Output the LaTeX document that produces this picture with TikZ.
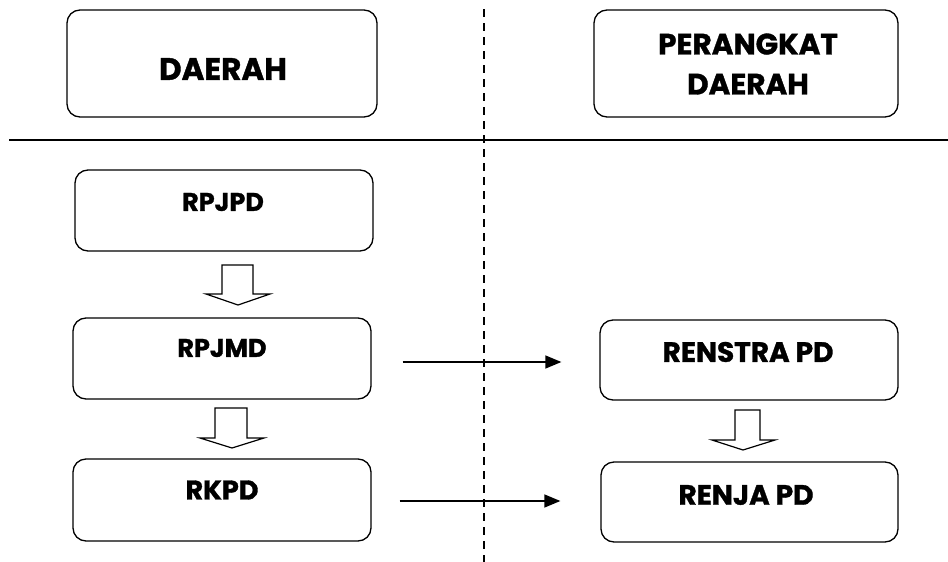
\documentclass[tikz,border=0pt]{standalone}
\usepackage{fontspec}
\setmainfont{Poppins}[BoldFeatures={FakeBold=1.2}]
\usetikzlibrary{arrows.meta}
\tikzset{
  box/.style={draw, line width=1.3pt, rounded corners=13pt, inner sep=0pt},
  lbl/.style={font=\bfseries, inner sep=0pt, align=center},
  hdr/.style={lbl, font=\fontsize{31}{40}\selectfont\bfseries},
  item/.style={lbl, font=\fontsize{25.5}{32}\selectfont\bfseries},
  itemr/.style={lbl, font=\fontsize{28}{30}\selectfont\bfseries},
  conn/.style={line width=1.4pt, -{Triangle[length=16pt,width=13pt]}},
  blockarrow/.style={draw, line width=1.2pt, fill=white, line join=miter},
}
\begin{document}
\begin{tikzpicture}[x=1pt,y=-1pt]
\useasboundingbox (0,0) rectangle (948,562);
% dividers
\draw[line width=2pt] (9,140) -- (948,140);
\draw[line width=1.5pt, dash pattern=on 8pt off 6pt] (484,9) -- (484,562);
% header boxes
\node[box, minimum width=310pt, minimum height=107pt] (daerah) at (222,63.5) {};
\node[hdr] (daerahT) at (223,69) {DAERAH};
\node[box, minimum width=304pt, minimum height=107pt] (pd) at (746,63.5) {};
\node[hdr, font=\fontsize{29.5}{40}\selectfont\bfseries] (pdT) at (748,64) {PERANGKAT\\DAERAH};
% left column
\node[box, minimum width=298pt, minimum height=81pt] (rpjpd) at (224,210.5) {};
\node[item] (rpjpdT) at (223,202) {RPJPD};
\node[box, minimum width=298pt, minimum height=81pt] (rpjmd) at (222,358.5) {};
\node[item] (rpjmdT) at (222,348) {RPJMD};
\node[box, minimum width=298pt, minimum height=82pt] (rkpd) at (222,500) {};
\node[item, font=\fontsize{27}{32}\selectfont\bfseries] (rkpdT) at (222,490) {RKPD};
% right column
\node[box, minimum width=298pt, minimum height=80pt] (renstra) at (749,360) {};
\node[itemr] (renstraT) at (748,352) {RENSTRA PD};
\node[box, minimum width=297pt, minimum height=80pt] (renja) at (749.5,502) {};
\node[itemr] (renjaT) at (746,495) {RENJA PD};
% block arrows
\draw[blockarrow] (222,265) -- (253,265) -- (253,294) -- (270,294) -- (238,305) -- (206,294) -- (222,294) -- cycle;
\draw[blockarrow] (215,408) -- (247,408) -- (247,438) -- (264,438) -- (232,448) -- (200,438) -- (215,438) -- cycle;
\draw[blockarrow] (735,410) -- (760,410) -- (760,440) -- (775,440) -- (743,450) -- (712,440) -- (735,440) -- cycle;
% connectors
\draw[conn] ([xshift=31pt,yshift=-3.5pt]rpjmd.east) -- ([xshift=-38pt,yshift=-2pt]renstra.west);
\draw[conn] ([xshift=28pt,yshift=-1pt]rkpd.east) -- ([xshift=-40pt,yshift=1pt]renja.west);
\end{tikzpicture}
\end{document}
